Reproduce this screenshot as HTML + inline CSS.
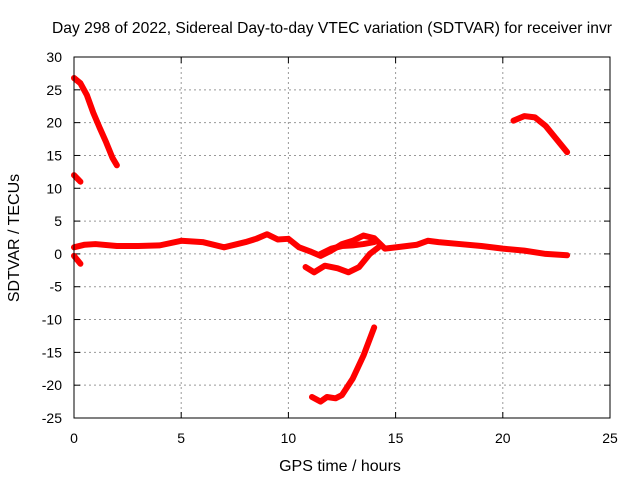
<!DOCTYPE html>
<html><head><meta charset="utf-8"><style>
body{margin:0;background:#fff}
svg text{font-family:"Liberation Sans",sans-serif;font-size:14px;fill:#000}
svg text.big{font-size:16px}
</style></head><body>
<svg id="chart" width="640" height="480">
<text class="big" x="52" y="33" textLength="560" lengthAdjust="spacingAndGlyphs">Day 298 of 2022, Sidereal Day-to-day VTEC variation (SDTVAR) for receiver invr</text>
<text class="big" x="340" y="471" text-anchor="middle">GPS time / hours</text>
<text class="big" transform="translate(19,238) rotate(-90)" text-anchor="middle">SDTVAR / TECUs</text>
<g id="grid"></g><g id="series"></g>
<rect x="74" y="57" width="536" height="361" fill="none" stroke="#000" stroke-width="1"/>
</svg>
<script>
const xTicks=[0,5,10,15,20,25];
const yTicks=[30,25,20,15,10,5,0,-5,-10,-15,-20,-25];
const segA=[[0,26.8],[0.3,26],[0.6,24.2],[0.9,21.5],[1.2,19.2],[1.5,17],[1.8,14.6],[2,13.5]];
const segB=[[0,12],[0.3,11]];
const segC=[[0,-0.3],[0.3,-1.5]];
const segMain=[[0,1],[0.5,1.4],[1,1.5],[2,1.2],[3,1.2],[4,1.3],[5,2],[6,1.8],[7,1],[8,1.8],[8.5,2.3],[9,3],[9.5,2.2],[10,2.3],[10.5,1],[11,0.4],[11.5,-0.3],[12,0.5],[12.5,1.5],[13,2],[13.5,2.8],[14,2.4],[14.5,0.8],[15,1],[16,1.4],[16.5,2],[17,1.8],[18,1.5],[19,1.2],[20,0.8],[21,0.5],[22,0],[23,-0.2]];
const segLoop=[[10.8,-2],[11.2,-2.8],[11.7,-1.8],[12.3,-2.2],[12.8,-2.8],[13.3,-2],[13.8,0],[14.2,1]];
const segMid=[[11.5,0],[12,0.8],[12.5,1.2],[13,1.3],[13.5,1.5],[14,1.8]];
const segBottom=[[11.1,-21.8],[11.5,-22.5],[11.8,-21.8],[12.2,-22],[12.5,-21.5],[13,-19],[13.5,-15.5],[14,-11.2]];
const segRight=[[20.5,20.3],[21,21],[21.5,20.8],[22,19.5],[22.5,17.5],[23,15.5]];
const X=t=>74+t*536/25, Y=v=>57+(30-v)*361/55;
const NS="http://www.w3.org/2000/svg";
const grid=document.getElementById('grid'), ser=document.getElementById('series');
function mk(tag,a){const e=document.createElementNS(NS,tag);for(const k in a)e.setAttribute(k,a[k]);return e;}
xTicks.forEach(t=>{
 if(t>0&&t<25){const l=mk('line',{x1:X(t),x2:X(t),y1:57,y2:418,stroke:'#999','stroke-dasharray':'2,3'});
 
 grid.appendChild(l);}
 grid.appendChild(mk('line',{x1:X(t),x2:X(t),y1:418,y2:412,stroke:'#000'}));
 grid.appendChild(mk('line',{x1:X(t),x2:X(t),y1:57,y2:63,stroke:'#000'}));
 const tx=mk('text',{x:X(t),y:443,'text-anchor':'middle'});tx.textContent=t;
 
 grid.appendChild(tx);
});
yTicks.forEach(v=>{
 if(v<30&&v>-25){const l=mk('line',{x1:74,x2:610,y1:Y(v),y2:Y(v),stroke:'#999','stroke-dasharray':'2,3'});
 
 grid.appendChild(l);}
 grid.appendChild(mk('line',{x1:74,x2:80,y1:Y(v),y2:Y(v),stroke:'#000'}));
 grid.appendChild(mk('line',{x1:604,x2:610,y1:Y(v),y2:Y(v),stroke:'#000'}));
 const tx=mk('text',{x:62,y:Y(v)+5,'text-anchor':'end'});tx.textContent=v;
 
 grid.appendChild(tx);
});
[segA,segB,segC,segMain,segLoop,segMid,segBottom,segRight].forEach(s=>{
 const p=mk('polyline',{points:s.map(d=>X(d[0])+','+Y(d[1])).join(' '),fill:'none',stroke:'#f00','stroke-width':6,'stroke-linejoin':'round','stroke-linecap':'round'});
 
 
 ser.appendChild(p);
});
</script>
</body></html>
